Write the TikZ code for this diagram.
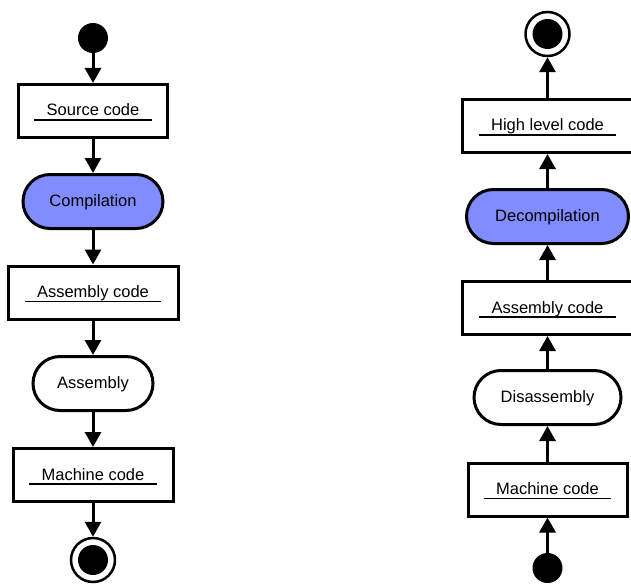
\documentclass[tikz,border=0pt]{standalone}
\usepackage{fontspec}
\setmainfont{Liberation Sans}
\usetikzlibrary{arrows.meta}
\definecolor{actblue}{RGB}{128,140,255}
% label with a rule running a little past the text on both sides
\newcommand\codelabel[1]{\setbox0\hbox{\hspace{12.5pt}#1\hspace{12.5pt}}\rlap{\rule[-4.6pt]{\wd0}{1.3pt}}\box0}
\begin{document}
\begin{tikzpicture}[x=1pt,y=-1pt,
  every node/.style={font=\fontsize{16.5}{20}\selectfont, inner sep=0pt, text height=11pt, text depth=1pt},
  objbox/.style={draw, line width=3pt, fill=white, minimum height=53pt},
  action/.style={draw, line width=3pt, fill=white, rounded corners=27pt, minimum height=54pt},
  hot/.style={fill=actblue},
  initial/.style={circle, fill=black, minimum size=30pt, text height=, text depth=},
  finalring/.style={circle, draw, line width=2.5pt, fill=white, minimum size=44pt, text height=, text depth=},
  finaldot/.style={circle, fill=black, minimum size=30pt, text height=, text depth=},
  flow/.style={line width=3pt, -{Triangle[width=16pt,length=15pt]}}]
\useasboundingbox (0,0) rectangle (631,583);

% compilation chain (top to bottom)
\node[initial] (s1) at (93,38) {};
\node[objbox, minimum width=149pt] (src) at (93,111) {\codelabel{Source code}};
\node[action, hot, minimum width=140pt] (comp) at (93,201.5) {Compilation};
\node[objbox, minimum width=170pt] (asm1) at (93,292.5) {\codelabel{Assembly code}};
\node[action, minimum width=120pt] (assem) at (93,383.5) {Assembly};
\node[objbox, minimum width=160pt] (mc1) at (93,475) {\codelabel{Machine code}};
\node[finalring] (e1) at (93,560) {};
\node[finaldot] (e1dot) at (e1.center) {};

\draw[flow] (s1) -- (src);
\draw[flow] (src) -- (comp);
\draw[flow] (comp) -- (asm1);
\draw[flow] (asm1) -- (assem);
\draw[flow] (assem) -- (mc1);
\draw[flow] (mc1) -- (e1);

% decompilation chain (bottom to top)
\node[initial] (s2) at (547.5,568) {};
\node[objbox, minimum width=159pt] (mc2) at (547.5,489.5) {\codelabel{Machine code}};
\node[action, minimum width=147pt] (dis) at (547.5,397.5) {Disassembly};
\node[objbox, minimum width=170pt] (asm2) at (547.5,308) {\codelabel{Assembly code}};
\node[action, hot, minimum width=162pt] (dec) at (547.5,216.5) {Decompilation};
\node[objbox, minimum width=170pt] (hlc) at (547.5,126) {\codelabel{High level code}};
\node[finalring] (e2) at (547.5,34) {};
\node[finaldot] (e2dot) at (e2.center) {};

\draw[flow] (s2) -- (mc2);
\draw[flow] (mc2) -- (dis);
\draw[flow] (dis) -- (asm2);
\draw[flow] (asm2) -- (dec);
\draw[flow] (dec) -- (hlc);
\draw[flow] (hlc) -- (e2);
\end{tikzpicture}
\end{document}
